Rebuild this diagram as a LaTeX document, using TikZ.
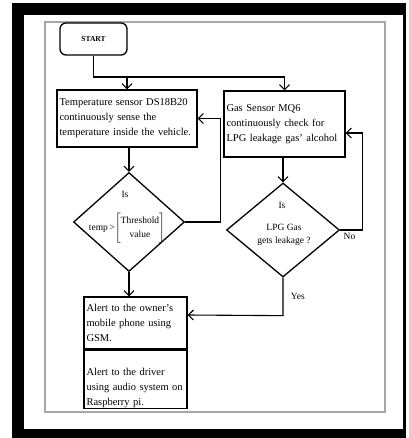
\documentclass[tikz,border=0pt]{standalone}
\usepackage{fontspec}
\setmainfont{Liberation Serif}
\usetikzlibrary{arrows.meta}
\usetikzlibrary{shapes.geometric}

\begin{document}
\begin{tikzpicture}[x=1pt, y=-1pt,
    box/.style={draw, line width=1.3pt, align=left, inner xsep=2.5pt, inner ysep=0pt, font=\fontsize{10.5}{15}\selectfont},
    decision/.style={draw, diamond, line width=1.3pt, inner sep=0pt},
    flow/.style={line width=1.1pt, -{Straight Barb[length=5pt, width=10pt]}},
    small/.style={font=\fontsize{9.5}{13.5}\selectfont}]
    \usetikzlibrary {arrows.meta}
    \usetikzlibrary {shapes.geometric}
    
    \useasboundingbox (0, 0) rectangle (408, 438);
    \fill[black] (12, 3) rectangle (406, 438);
    \fill[white] (24, 15) rectangle (403, 429);
    \draw[black!35, line width=1.2pt] (45, 22) rectangle (385, 412);
    
    \node[draw, rounded corners=6pt, line width=1.3pt, minimum width=67pt, minimum height=32pt, font=\fontsize{7.5}{9}\selectfont\bfseries] (start) at (93.5, 39) {START};
    \node[box, text width=135pt, minimum height=57pt] (temp) at (127, 118.5) {Temperature sensor DS18B20\\ continuously sense the\\ temperature inside the vehicle.};
    \node[box, text width=116pt, minimum height=66pt] (gas) at (284.5, 124) {Gas Sensor MQ6\\ continuously check for\\ LPG leakage gas' alcohol};
    \node[decision, minimum width=111pt, minimum height=99pt] (dia1) at (129, 222) {};
    \node[decision, minimum width=113pt, minimum height=94pt] (dia2) at (283, 230) {};
    \node[box, text width=98pt, minimum height=52pt] (alert1) at (135.5, 323) {Alert to the owner's\\ mobile phone using\\ GSM.};
    \node[box, text width=98pt, minimum height=58pt, anchor=north] (alert2) at (alert1.south) {\rule{0pt}{24pt}Alert to the driver\\ using audio system on\\ Raspberry pi.};
    
    \node[small] (is1) at (125, 194) {Is};
    \node[small] (cond1) at (127, 228) {temp\,>$\left[\begin{tabular}{@{}c@{}}Threshold\\ value\end{tabular}\right]$};
    \node[small] (is2) at (282, 205) {Is};
    \node[small, align=center] (cond2) at (284, 235) {LPG Gas\\ gets leakage ?};
    
    \coordinate (fork) at (93.5, 77);
    \draw[flow] (start.south) -- (fork) -| (gas.north);
    \draw[flow] (temp.north |- fork) -- (temp.north);
    \draw[flow] (temp.south -| dia1.north) -- (dia1.north);
    \draw[flow] (dia1.east) -- ++(35, 0) |- (temp.east);
    \draw[flow] (dia1.south) -- (dia1.south |- alert1.north);
    \draw[flow] (gas.south -| dia2.north) -- (dia2.north);
    \draw[flow] (dia2.east) -- ++(22, 0) |- (gas.east |- 0,133);
    \node[small, anchor=north west] (no) at (dia2.east) {No};
    \draw[flow] (dia2.south) -- node[small, right, xshift=4pt] (yes) {Yes} ++(0, 38) -- (alert1.east |- 0,315);
    
\end{tikzpicture}
\end{document}
